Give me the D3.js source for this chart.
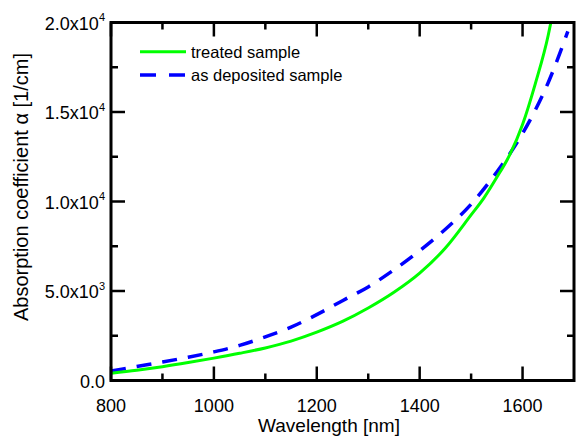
<!DOCTYPE html>
<html lang="en">
<head>
<meta charset="utf-8">
<title>Absorption coefficient</title>
<script src="https://cdn.jsdelivr.net/npm/d3@7"></script>
<style>
    body { margin: 0; background: #fff; }
    text { font-family: Arial, "Liberation Sans", sans-serif; fill: #000; }
</style>
</head>
<body>
<script>
    // values
    var wavelengthTreated = [800, 850, 900, 950, 1000, 1050, 1100, 1150, 1200, 1250, 1300, 1350, 1400, 1450, 1500, 1525, 1550, 1575, 1600, 1625, 1650, 1655];
    var alphaTreated = [400, 570, 770, 1000, 1250, 1520, 1820, 2200, 2700, 3300, 4050, 4930, 6000, 7400, 9250, 10200, 11350, 12600, 14300, 16600, 19300, 20000];

    var wavelengthDeposited = [800, 850, 900, 950, 1000, 1050, 1100, 1150, 1200, 1250, 1300, 1350, 1400, 1450, 1500, 1550, 1600, 1650, 1688];
    var alphaDeposited = [530, 780, 1030, 1300, 1600, 1960, 2440, 2980, 3680, 4460, 5230, 6180, 7250, 8450, 9850, 11650, 13800, 16650, 19500];

    var seriesNames = ["treated sample", "as deposited sample"];
    var xTicks = [800, 1000, 1200, 1400, 1600];
    var xMinorTicks = [900, 1100, 1300, 1500];
    var yTicks = [0, 5000, 10000, 15000, 20000];
    var yTickLabels = [["0.0", ""], ["5.0x10", "3"], ["1.0x10", "4"], ["1.5x10", "4"], ["2.0x10", "4"]];
    var yMinorTicks = [2500, 7500, 12500, 17500];

    var width = 577, height = 437;
    var plotLeft = 111, plotRight = 574, plotTop = 22.5, plotBottom = 380.5;

    var x = d3.scaleLinear().domain([800, 1700]).range([plotLeft, plotRight]);
    var y = d3.scaleLinear().domain([0, 20000]).range([plotBottom, plotTop]);

    var svg = d3.select("body").append("svg")
        .attr("width", width)
        .attr("height", height);

    svg.append("clipPath").attr("id", "plot")
        .append("rect")
        .attr("x", plotLeft).attr("y", plotTop)
        .attr("width", plotRight - plotLeft).attr("height", plotBottom - plotTop);

    var line = d3.line()
        .x(function (d) { return x(d[0]); })
        .y(function (d) { return y(d[1]); })
        .curve(d3.curveMonotoneX);

    var treated = d3.zip(wavelengthTreated, alphaTreated);
    var deposited = d3.zip(wavelengthDeposited, alphaDeposited);

    svg.append("path")
        .datum(deposited)
        .attr("clip-path", "url(#plot)")
        .attr("d", line)
        .attr("fill", "none")
        .attr("stroke", "#0000ff")
        .attr("stroke-width", 3.5)
        .attr("stroke-dasharray", "15,11");

    svg.append("path")
        .datum(treated)
        .attr("clip-path", "url(#plot)")
        .attr("d", line)
        .attr("fill", "none")
        .attr("stroke", "#00ff00")
        .attr("stroke-width", 3);

    // ticks on all four sides, pointing inwards
    function xTick(v, len) {
        svg.append("line").attr("x1", x(v)).attr("x2", x(v))
            .attr("y1", plotBottom).attr("y2", plotBottom - len)
            .attr("stroke", "#000").attr("stroke-width", 2.5);
        svg.append("line").attr("x1", x(v)).attr("x2", x(v))
            .attr("y1", plotTop).attr("y2", plotTop + len)
            .attr("stroke", "#000").attr("stroke-width", 2.5);
    }
    function yTick(v, len) {
        svg.append("line").attr("x1", plotLeft).attr("x2", plotLeft + len)
            .attr("y1", y(v)).attr("y2", y(v))
            .attr("stroke", "#000").attr("stroke-width", 2.5);
        svg.append("line").attr("x1", plotRight).attr("x2", plotRight - len)
            .attr("y1", y(v)).attr("y2", y(v))
            .attr("stroke", "#000").attr("stroke-width", 2.5);
    }
    xTicks.forEach(function (v) { xTick(v, 14); });
    xMinorTicks.forEach(function (v) { xTick(v, 7); });
    yTicks.forEach(function (v) { yTick(v, 14); });
    yMinorTicks.forEach(function (v) { yTick(v, 7); });

    svg.append("rect")
        .attr("x", plotLeft).attr("y", plotTop)
        .attr("width", plotRight - plotLeft).attr("height", plotBottom - plotTop)
        .attr("fill", "none")
        .attr("stroke", "#000")
        .attr("stroke-width", 3);

    svg.selectAll(".xlabel")
        .data(xTicks)
        .enter().append("text")
        .attr("class", "xlabel")
        .attr("x", function (d) { return x(d); })
        .attr("y", 412)
        .attr("text-anchor", "middle")
        .attr("font-size", 18)
        .text(function (d) { return d; });

    var yl = svg.selectAll(".ylabel")
        .data(yTicks)
        .enter().append("text")
        .attr("class", "ylabel")
        .attr("x", 105)
        .attr("y", function (d) { return y(d) + 7; })
        .attr("text-anchor", "end")
        .attr("font-size", 18);
    yl.append("tspan")
        .text(function (d, i) { return yTickLabels[i][0]; });
    yl.append("tspan")
        .attr("dy", -8.5)
        .attr("font-size", 11)
        .text(function (d, i) { return yTickLabels[i][1]; });

    svg.append("text")
        .attr("x", 329)
        .attr("y", 432)
        .attr("text-anchor", "middle")
        .attr("font-size", 19)
        .text("Wavelength [nm]");

    svg.append("text")
        .attr("transform", "translate(27.5,187) rotate(-90)")
        .attr("text-anchor", "middle")
        .attr("font-size", 20)
        .text("Absorption coefficient \u03b1 [1/cm]");

    // legend
    var legend = svg.selectAll(".legend")
        .data(seriesNames)
        .enter().append("g")
        .attr("class", "legend")
        .attr("transform", function (d, i) { return "translate(140," + (51.7 + i * 23.3) + ")"; });
    legend.append("line")
        .attr("x1", 0).attr("x2", 46)
        .attr("stroke", function (d, i) { return i === 0 ? "#00ff00" : "#0000ff"; })
        .attr("stroke-width", function (d, i) { return i === 0 ? 3 : 3.5; })
        .attr("stroke-dasharray", function (d, i) { return i === 0 ? null : "16,13"; });
    legend.append("text")
        .attr("x", 51)
        .attr("y", 6)
        .attr("font-size", 16.5)
        .text(function (d) { return d; });
</script>
</body>
</html>
